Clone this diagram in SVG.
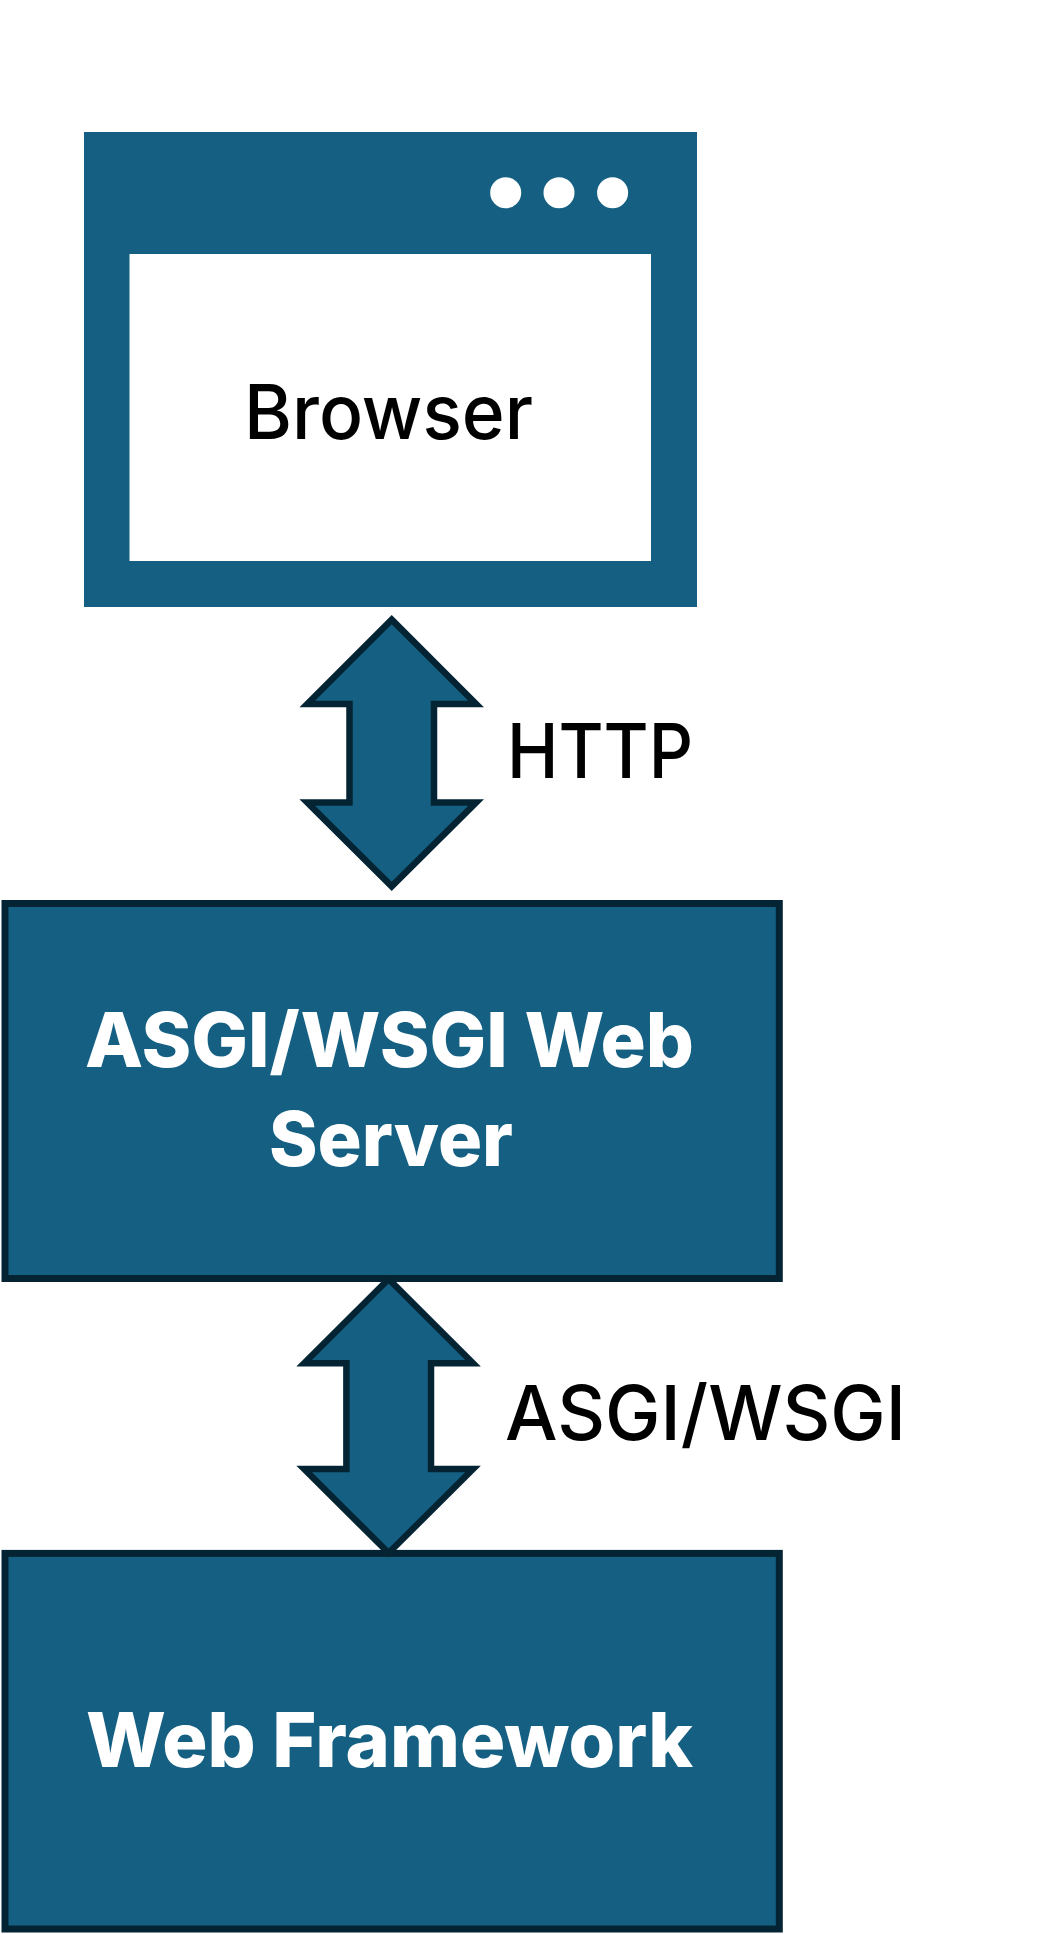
<svg xmlns="http://www.w3.org/2000/svg" width="1049" height="1934" viewBox="0 0 1049 1934">
<style>
.box{fill:#156082;stroke:#042433;stroke-width:7}
.frame{fill:#156082}
.arrow{fill:#156082;stroke:#042433;stroke-width:6.5;stroke-miterlimit:10}
text{font-family:Inter,"Liberation Sans",Arial,sans-serif;font-size:76px}
.dark{fill:#000;font-weight:500}
.light{fill:#fff;font-weight:800}
</style>
<rect width="1049" height="1934" fill="#fff"/>
<g id="node-browser">
<rect class="frame" x="84" y="132" width="613" height="475"/>
<rect x="129.500" y="254" width="521.500" height="307" fill="#fff"/>
<circle cx="505.700" cy="192.700" r="15.500" fill="#fff"/>
<circle cx="559" cy="192.700" r="15.500" fill="#fff"/>
<circle cx="612.600" cy="192.700" r="15.500" fill="#fff"/>
<text class="dark" x="244" y="439" textLength="289" lengthAdjust="spacingAndGlyphs">Browser</text>
</g>
<g id="node-server">
<rect class="box" x="5" y="903.500" width="774.300" height="375"/>
<text class="light" x="85" y="1066.700" textLength="609" lengthAdjust="spacingAndGlyphs">ASGI/WSGI Web</text>
<text class="light" x="269" y="1165.700" textLength="244" lengthAdjust="spacingAndGlyphs">Server</text>
</g>
<g id="node-framework">
<rect class="box" x="5" y="1553.400" width="774.300" height="375.600"/>
<text class="light" x="86" y="1766.700" textLength="607" lengthAdjust="spacingAndGlyphs">Web Framework</text>
</g>
<g id="connectors">
<polygon class="arrow" points="391.700,619.600 476.100,704 434,704 434,802.500 476.100,802.500 391.700,886.400 307.300,802.500 349.500,802.500 349.500,704 307.300,704"/>
<polygon class="arrow" points="388.600,1279 473,1363.300 431,1363.300 431,1469 473,1469 388.600,1553 304.200,1469 346.400,1469 346.400,1363.300 304.200,1363.300"/>
</g>
<g id="label-http">
<text class="dark" x="507" y="777.700" textLength="186" lengthAdjust="spacingAndGlyphs">HTTP</text>
</g>
<g id="label-asgi-wsgi">
<text class="dark" x="505" y="1440" textLength="401" lengthAdjust="spacingAndGlyphs">ASGI/WSGI</text>
</g>
</svg>
